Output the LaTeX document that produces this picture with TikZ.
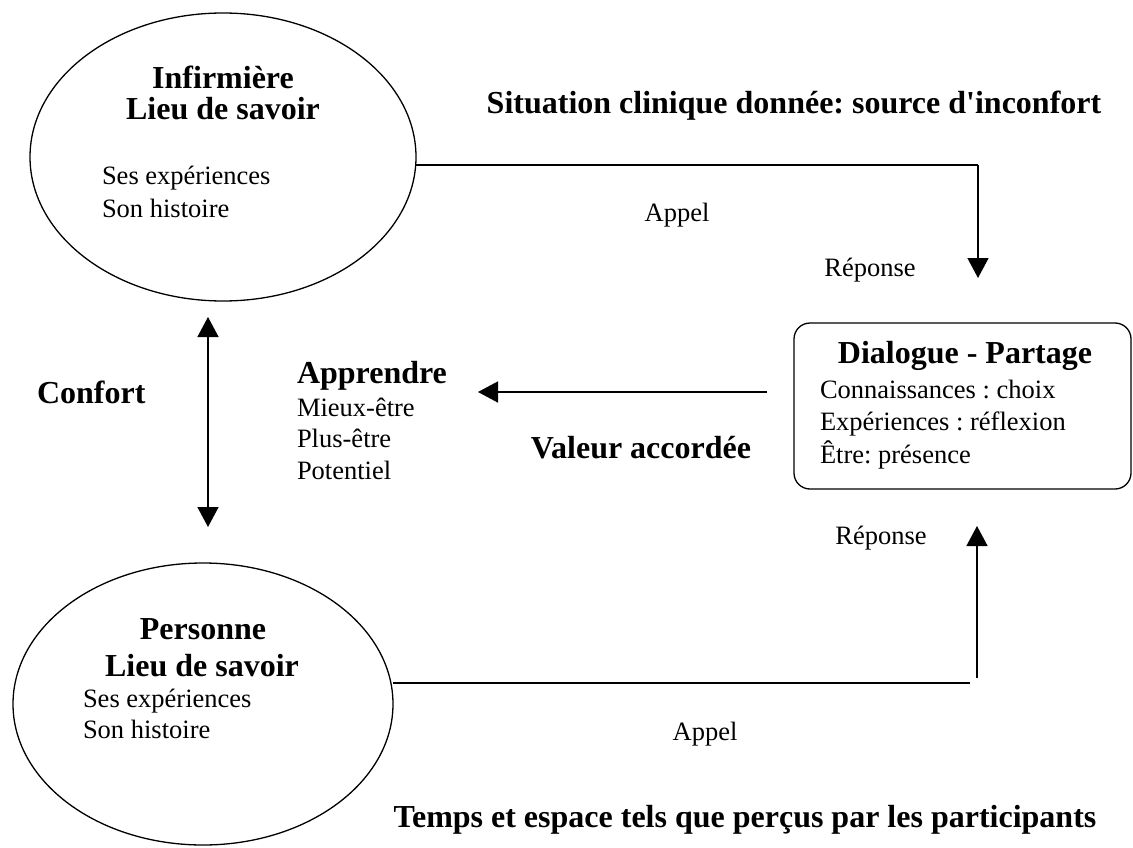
\documentclass[tikz,border=0pt]{standalone}
\usepackage{fontspec}
\setmainfont{Liberation Serif}
\usetikzlibrary{shapes.geometric,arrows.meta}
\begin{document}
\frenchspacing
\begin{tikzpicture}[x=1pt,y=-1pt,
  every node/.style={inner sep=0pt, outer sep=0pt},
  bubble/.style={draw, ellipse, line width=1.3pt, inner sep=0pt},
  panel/.style={draw, rectangle, rounded corners=16pt, line width=1.3pt, inner sep=0pt},
  head/.style={font=\fontsize{32}{36}\selectfont\bfseries},
  body/.style={font=\fontsize{26.5}{31}\selectfont},
  link/.style={line width=1.5pt},
  tip/.style={-{Triangle[width=21pt,length=20pt]}},
  twotips/.style={{Triangle[width=21pt,length=20pt]}-{Triangle[width=21pt,length=20pt]}},
]
\useasboundingbox (0,0) rectangle (1133,848);

% --- the nurse ---
\node[bubble, minimum width=386pt, minimum height=288pt] (inf) at (223,157) {};
\node[head, anchor=base] (infA) at (223,89) {Infirmière};
\node[head, anchor=base] (infB) at (223,120) {Lieu de savoir};
\node[body, anchor=base west] (infC) at (102,185) {Ses expériences};
\node[body, anchor=base west] (infD) at (102,217) {Son histoire};

% --- the person ---
\node[bubble, minimum width=380pt, minimum height=282pt] (pers) at (203,704) {};
\node[head, anchor=base] (persA) at (203,639) {Personne};
\node[head, anchor=base] (persB) at (202,676) {Lieu de savoir};
\node[body, anchor=base west] (persC) at (83,707) {Ses expériences};
\node[body, anchor=base west] (persD) at (83,738) {Son histoire};

% --- dialogue ---
\node[panel, minimum width=337pt, minimum height=166pt] (dlg) at (962.5,406) {};
\node[head, anchor=base] (dlgA) at (965,363) {Dialogue - Partage};
\node[body, anchor=base west] (dlgB) at (820,398) {Connaissances : choix};
\node[body, anchor=base west] (dlgC) at (820,430) {Expériences : réflexion};
\node[body, anchor=base west] (dlgD) at (820,463) {Être: présence};

% --- learning ---
\node[head, anchor=base west] (lrnA) at (297,383) {Apprendre};
\node[body, anchor=base west] (lrnB) at (297,416) {Mieux-être};
\node[body, anchor=base west] (lrnC) at (297,447) {Plus-être};
\node[body, anchor=base west] (lrnD) at (297,479) {Potentiel};

% --- labels ---
\node[head, anchor=base] (sit) at (794,114) {Situation clinique donnée: source d\textquotesingle inconfort};
\node[body, anchor=base] (call1) at (677,222) {Appel};
\node[body, anchor=base] (resp1) at (870,276) {Réponse};
\node[head, anchor=base] (val) at (641,458) {Valeur accordée};
\node[head, anchor=base west] (conf) at (37,403) {Confort};
\node[body, anchor=base] (resp2) at (881,544) {Réponse};
\node[body, anchor=base] (call2) at (705,740) {Appel};
\node[head, anchor=base] (tmp) at (745,827) {Temps et espace tels que perçus par les participants};

% --- connector end points ---
\coordinate (t1) at (978,165);
\coordinate (t2) at (978,278);
\coordinate (l1) at (767,392);
\coordinate (l2) at (478,392);
\coordinate (v1) at (208,317);
\coordinate (v2) at (208,527);
\coordinate (b1) at (970,683);
\coordinate (u1) at (977,678);
\coordinate (u2) at (977,526);

% --- connectors ---
\draw[link] (inf.east |- t1) -- (t1);
\draw[link, tip] (t1) -- (t2);
\draw[link, tip] (l1) -- (l2);
\draw[link, twotips] (v1) -- (v2);
\draw[link] (pers.east |- b1) -- (b1);
\draw[link, tip] (u1) -- (u2);
\end{tikzpicture}
\end{document}
